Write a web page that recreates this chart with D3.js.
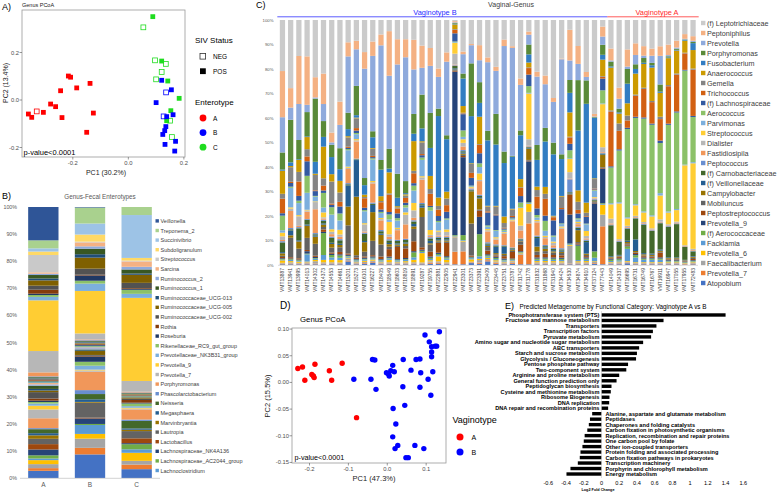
<!DOCTYPE html>
<html><head><meta charset="utf-8">
<script src="https://cdn.jsdelivr.net/npm/d3@7"></script>
<style>body{margin:0;background:#fff}svg{display:block}text{font-family:"Liberation Sans",Arial,sans-serif}</style>
</head><body><svg id="c" width="778" height="492"></svg>
<script>
// ---------- Panel A: fecal genus PCoA ----------
const fecalPC1 = [-0.216,-0.208,-0.138,-0.186,-0.244,-0.280,-0.262,-0.306,-0.330,-0.360,-0.348,-0.239,-0.126,-0.150,
  0.088,0.054,0.096,0.120,0.135,0.120,0.100,0.142,0.183,0.153,0.138,0.150,0.157,
  0.120,0.155,0.136,0.100,0.127,0.138,0.161,0.135,0.131,0.124,0.170,0.132,0.167];
const fecalPC2 = [0.101,0.096,0.070,0.051,0.039,-0.017,-0.028,-0.052,-0.048,-0.059,-0.073,-0.074,-0.055,-0.136,
  0.351,0.306,0.167,0.164,0.152,0.118,0.087,0.080,0.007,-0.045,-0.087,-0.087,-0.156,
  0.083,0.043,0.032,-0.011,-0.069,-0.070,-0.062,-0.112,-0.129,-0.145,-0.174,-0.187,-0.215];
const fecalEnterotype = ["A","A","A","A","A","A","A","A","A","A","A","A","A","A",
  "C","C","C","C","C","C","C","C","C","C","C","C","C",
  "B","B","B","B","B","B","B","B","B","B","B","B","B"];
const fecalSIV = ["POS","POS","POS","POS","POS","POS","POS","POS","NEG","POS","POS","POS","POS","POS",
  "POS","NEG","NEG","POS","NEG","NEG","NEG","POS","POS","POS","POS","NEG","NEG",
  "POS","POS","NEG","POS","NEG","POS","POS","POS","POS","POS","POS","POS","POS"];
const enterotypes = ["A","B","C"];
const typeColors = ["#FF0000","#0000FF","#1EDC1E"];

// ---------- Panel B: fecal enterotype composition ----------
const excelPalette = ["#4472C4","#ED7D31","#A5A5A5","#FFC000","#5B9BD5","#70AD47","#264478","#9E480E","#636363","#997300","#255E91","#43682B",
  "#698ED0","#F1975A","#B7B7B7","#FFCD33","#7CAFDD","#8CC168","#1F3864","#843C0C","#525252","#7F6000","#1F4E79","#385723",
  "#8FAADC","#F4B183","#C9C9C9","#FFD966","#9DC3E6","#A9D18E","#2F5597","#C55A11","#7B7B7B","#BF9000","#2E75B6","#548235"];
const fecalLegend = ["Veillonella","Treponema_2","Succinivibrio","Subdoligranulum","Streptococcus","Sarcina","Ruminococcus_2","Ruminococcus_1",
  "Ruminococcaceae_UCG-013","Ruminococcaceae_UCG-005","Ruminococcaceae_UCG-002","Rothia","Roseburia","Rikenellaceae_RC9_gut_group",
  "Prevotellaceae_NK3B31_group","Prevotella_9","Prevotella_7","Porphyromonas","Phascolarctobacterium","Neisseria","Megasphaera",
  "Marvinbryantia","Lautropia","Lactobacillus","Lachnospiraceae_NK4A136","Lachnospiraceae_AC2044_group","Lachnoclostridium"];
const fecalLegendColor = [30,29,28,27,26,25,24,23,22,21,20,19,18,17,16,15,14,13,12,11,10,9,8,7,6,5,4];
// segments bottom -> top: [palette index, percent]
const fecalA = [[0,2.7],[1,1],[2,1.5],[3,1.5],[4,0.6],[5,1.2],[6,2.2],[7,2],[8,2],[9,1.3],[10,0.8],[11,1.5],[12,0.4],[13,3.7],[14,3.3],[15,1.4],[16,0.8],[17,0.6],[18,0.5],[19,0.8],[20,2.4],[21,0.6],[22,0.6],[23,1.2],[24,0.5],[25,0.5],
  [4,0.3],[5,0.3],[6,0.3],[7,0.3],[8,0.3],[9,0.2],[10,0.2],[11,0.3],[12,0.3],[13,1.5],[14,8],[15,19],[16,1.3],[17,0.7],[18,0.5],[19,1.5],[20,1.5],[21,2],[22,0.7],[23,1.3],[24,0.5],[25,0.5],[26,6.5],[27,1.3],[28,1.2],[29,3],[30,12.5]];
const fecalB = [[0,9],[1,2.5],[2,3.5],[3,1.8],[4,3.4],[5,0.4],[6,2.1],[7,0.3],[8,5.7],[9,0.3],[10,1],[11,2],[12,1.5],[13,7],[14,0.5],[15,0.3],[16,1.5],[17,1.5],[18,2],[19,0.3],[20,0.3],[21,1.5],[22,0.3],[23,0.3],[24,0.5],[25,0.3],
  [4,0.3],[5,0.3],[6,0.3],[7,0.3],[8,0.3],[9,0.3],[10,0.3],[11,0.3],[12,0.3],[13,0.3],[14,2.3],[15,16.2],[16,2.8],[17,1.1],[18,2],[19,0.3],[20,2.3],[21,4.2],[22,1.3],[23,2.1],[24,0.9],[25,1.5],[26,0.3],[27,2.7],[28,4.2],[29,6.1],[30,0.2]];
const fecalC = [[0,3.3],[1,1.7],[2,1.4],[3,3],[4,1.3],[5,1.9],[6,0.4],[7,1.8],[8,2.7],[9,0.5],[10,0.5],[11,2.8],[12,0.5],[13,3.8],[14,0.3],[15,0.3],[16,0.6],[17,1],[18,0.3],[19,1],[20,0.5],[21,0.5],
  [4,0.2],[5,0.2],[6,0.2],[7,0.2],[8,0.2],[9,0.2],[10,0.2],[11,0.2],[12,0.2],[13,0.3],[14,4],[15,31],[16,1.5],[17,1.5],[18,0.3],[19,0.3],[20,2],[21,3],[22,0.5],[23,1.5],[24,1],[25,2],[26,0.3],[27,1],[28,16],[29,3]];
const fecalGroups = ["A","B","C"];
const fecalBars = [fecalA, fecalB, fecalC];
const pctTicks = [0,10,20,30,40,50,60,70,80,90,100];

// ---------- Panel C: vaginal genus composition ----------
const samples = ["VMT13887","VMT13941","VMT13995","VMT14013","VMT14302","VMT14373","VMT14553","VMT14661","VMT15201","VMT15273",
  "VMT16101","VMT16227","VMT18405","VMT18549","VMT18603","VMT18819","VMT18891","VMT19287","VMT19755","VMT22881","VMT22905",
  "VMT22941","VMT23301","VMT23373","VMT23391","VMT23409","VMT23445","VMT23751","VMT23787","VMT31742","VMT31778","VMT31832",
  "VMT31868","VMT31940","VMT34424","VMT34530","VMT34874","VMT34910","VMT37124","VMT77443",
  "VMT14049","VMT14337","VMT16695","VMT16731","VMT16749","VMT16767","VMT16911","VMT16947","VMT17055","VMT17955","VMT72483"];
const vaginotypeOf = samples.map((s,i)=> i<40 ? "B" : "A");
// stack order bottom -> top
const vaginalGenera = ["Atopobium","Prevotella_7","Faecalibacterium","Prevotella_6","Facklamia","(f) Aerococcaceae","Prevotella_9",
  "Peptostreptococcus","Mobiluncus","Campylobacter","(f) Veillonellaceae","(f) Carnobacteriaceae","Peptococcus","Fastidiosipila",
  "Dialister","Streptococcus","Parvimonas","Aerococcus","(f) Lachnospiraceae","Trichococcus","Gemella","Anaerococcus",
  "Fusobacterium","Porphyromonas","Prevotella","Peptoniphilus","(f) Leptotrichiaceae"];
const vaginalColors = ["#4472C4","#ED7D31","#A5A5A5","#FFC000","#5B9BD5","#70AD47","#264478","#9E480E","#636363","#997300",
  "#255E91","#43682B","#698ED0","#F1975A","#B7B7B7","#FFCD33","#7CAFDD","#8CC168","#335AA1","#D26012","#848484","#CC9A00",
  "#327DC2","#5A8A39","#8FAADC","#F4B183","#CBCBCB"];
const vaginalAbund = [
 [0.3,0.3,0.3,1,0.3,0.3,0.3,0.5,0.5,1,0.5,4,0.5,0.5,1.5,1.5,1,6,1,6,2,9.5,0.5,7,14.5,19,21],
 [0.3,0.3,0.5,0.5,0.5,0.3,0.3,0.5,8,1,2,0.5,0.5,7,1,0.5,8,0.5,1.5,0.5,6,0.5,1.5,17.5,5,8,28],
 [0.3,0.3,0.3,0.5,0.3,0.3,0.3,0.5,4,3,0.5,5,0.5,0.5,4,0.5,5,1,2,6,4,5,0.3,8,15,20,15],
 [0.3,0.3,0.5,0.3,3,0.3,1,0.5,5,5,0.5,2,0.3,3,0.5,0.3,7,7,6,2,3,5,0.3,10,3,20,15],
 [0.3,0.3,1,0.5,0.5,0.3,0.5,0.5,5,3,0.5,0.5,0.5,10,3,0.3,2,0.3,2,0.3,6.5,0.5,5,26.5,0.5,8.5,24],
 [0.3,0.3,0.5,1,2,9,0.5,1,1,1,0.5,1,0.5,0.5,0.5,2,2,6,1,2,3,13,4,6.5,7,12.5,22],
 [0.3,0.3,0.5,1,1,1,0.5,0.5,2,1.5,0.5,2,0.5,1,1,1,6,3,1,0.5,9,3,7,5,1,4,46],
 [0.3,0.3,0.5,1,1,1,0.5,1,2,1,0.5,1.5,0.5,1,1,2,4,3,3,2,4,5,5,9,10,10,35],
 [1.5,0.3,1,0.3,0.5,0.3,0.5,0.5,12,8,9,0.5,0.5,6,0.5,0.5,7,0.5,0.5,0.5,4,0.5,3,7,24,6,9.5],
 [0.3,0.3,0.5,0.3,0.5,0.3,0.3,0.5,1,24,15,0.3,0.3,7,0.5,0.5,2,0.5,1,1,4,0.3,1,12,15,3.5,8.5],
 [0.5,0.3,0.5,0.5,0.5,0.3,0.5,0.5,2,4,0.5,3,0.5,0.5,3,0.5,5,0.5,1,4,0.5,1,4,3,46,7,13.5],
 [1,0.3,0.5,0.5,0.5,0.3,0.5,0.5,6,12,3,0.5,0.5,8,0.5,0.5,9,0.5,0.5,0.5,3,0.3,4.5,2.5,31.5,6,9],
 [0.3,0.3,0.5,0.3,0.5,0.3,0.3,1,5,4,0.5,1,0.5,4,0.5,0.5,2,0.5,1,3,0.5,2,11,4,47.5,4.5,6],
 [0.3,0.3,0.5,1,0.5,0.3,0.5,3,1,1,0.5,1,0.5,1,1,5,1,2,1,7,0.5,8.5,1.5,8,29.5,18,4.5],
 [0.3,0.3,0.5,0.3,0.5,0.3,0.3,5,0.5,0.5,0.5,1,0.5,4,0.5,0.5,3,1,2,2,0.5,0.5,3.5,10,45.5,10.5,8],
 [0.3,0.3,0.5,0.5,0.5,0.3,0.5,4,1,1,0.5,1,0.5,6,4,1,2,1,1,2,1,0.5,0.5,5,51.5,7.5,8],
 [0.3,0.3,0.5,1,1,2,0.5,4,5,1,1,1,0.5,1,3,3,5,2,1,4,1,12,3,8,18,12,8],
 [0.3,0.3,0.5,4,0.5,0.5,0.5,1,13,4,1,0.5,0.5,10,1,0.5,7,1,1,0.5,5,0.5,5.5,14.5,11.5,9.5,11],
 [0.5,0.5,0.5,0.5,0.5,0.5,0.5,2,3,0.5,1,1,0.5,0.5,0.5,2,8,1.5,0.5,5,2,5.4,11.6,14.5,19.5,7.4,11.6],
 [0.5,0.5,0.5,2,0.5,0.5,0.5,4,0.5,0.5,0.5,0.5,0.5,0.5,1.5,0.5,3.4,0.5,2,2.6,1.5,3.4,33.1,3,12.9,3.4,19.7],
 [0.3,0.3,0.5,1,0.5,0.5,0.5,5.4,0.5,0.5,0.5,0.5,0.5,0.5,1.5,1,4,0.5,2.7,2.7,2.7,2.8,21.4,1.6,30,3.8,13.2],
 [0.3,5.4,6.2,0.3,0.3,0.3,70,0.3,0.3,0.3,0.5,1,0.3,0.3,4.7,4.6,0.3,0.3,3.5,1.5,0.3,2,0.3,0.3,0.3,0.5,0.5],
 [0.3,5.4,4.1,0.3,0.3,2.1,32.6,0.5,0.5,0.5,0.5,0.5,0.5,1.5,1.5,1.5,1,2.7,6.8,0.3,0.3,2.8,11.5,2.1,8.1,1.1,13.2],
 [0.8,0.3,0.3,1,0.5,0.3,0.3,0.5,13.6,13.7,0.3,0.3,0.3,0.3,0.3,0.3,0.3,0.3,3.3,2.1,3.8,0.3,20,22.4,7.7,0.5,10.2],
 [0.5,0.5,1,0.5,1,9,7,2.5,0.5,4.5,0.5,0.5,0.5,5.5,0.5,2.6,2.6,1.5,4.1,3.4,0.3,11.1,5.6,8.4,8.9,6.1,10.2],
 [1.5,0.5,0.5,0.5,0.5,0.5,0.5,1.5,1.5,0.5,0.5,0.5,0.5,4.5,0.5,0.5,1,0.5,5.4,0.5,2,0.3,27.3,4,28.6,2,15.6],
 [0.5,0.5,0.5,0.5,0.5,0.5,0.5,0.5,0.5,0.5,2.7,0.5,0.5,2,0.5,0.5,2.7,0.3,6.2,0.3,3.4,0.3,25.8,12.9,18.1,1.7,19.7],
 [0.3,0.3,0.5,0.3,0.5,0.3,0.5,1,0.5,0.5,3,0.3,0.3,4.7,0.5,0.3,0.5,0.5,0.5,0.3,2,2.7,22.4,4.8,44.2,2.7,8.2],
 [0.5,0.5,0.5,0.3,0.3,0.3,0.3,2.7,0.5,0.5,0.3,0.3,0.3,10.9,0.3,0.3,0.3,0.3,0.5,0.5,2.7,0.3,21.7,0.3,44.9,0.7,10.9],
 [0.3,4,0.3,0.3,0.3,0.3,0.3,2.7,1.4,0.3,0.3,0.3,0.3,3.4,2,7.4,0.3,2,2.7,3.4,0.3,3.4,18.4,2,19.1,2.7,24.5],
 [0.3,17,4.8,3.4,0.3,0.3,17,0.3,0.3,4.7,0.3,0.3,0.3,0.3,2.7,19,0.3,2.8,4.8,2.7,0.3,2,3.4,4.1,4.1,1.3,4.8],
 [0.3,0.3,0.5,0.5,0.5,0.5,0.5,1,1.4,2,3.5,0.5,0.5,5.4,0.5,0.5,1,1,2.7,4.8,2.7,1.4,10.9,6.1,27.9,2,21.1],
 [0.3,0.3,0.5,0.5,0.5,0.5,0.5,1.5,1,1,0.5,0.5,0.5,2.7,0.5,0.5,2,4,2.1,6.8,2,2.8,18.3,5.5,17.6,3.5,22.4],
 [0.3,0.3,0.5,0.5,0.5,0.5,0.5,1,1,0.5,0.5,0.5,0.5,1,1,0.5,2,0.5,6.2,1.3,0.3,0.3,25.2,4.8,16.7,1.6,32],
 [0.3,0.3,0.5,0.5,0.5,0.5,0.5,1,1,0.5,0.5,0.5,0.5,8.2,0.5,0.5,1,0.3,6,0.5,4.8,0.3,15.6,2,40.2,0.3,16.3],
 [0.3,0.3,7.5,0.3,0.3,0.3,12.2,8.2,0.3,0.3,0.3,0.3,5.4,0.3,2.7,5.5,0.3,3.4,2.7,2.7,0.3,10.2,8.2,5.4,8.2,12.9,4.1],
 [0.3,0.3,0.5,0.5,0.5,6,0.5,0.5,0.5,5,0.5,0.5,0.5,1,0.5,0.5,1,0.5,2,1.5,3.4,4.8,25.1,21.1,6.8,7.5,10.9],
 [0.3,0.3,0.5,0.5,0.5,0.5,0.5,0.5,0.5,0.5,4.7,0.5,0.5,0.5,1,2,2.7,0.3,2.7,0.3,1.4,4.1,40.1,9.5,1.4,2,21.1],
 [0.5,0.3,0.5,0.3,1.5,2.7,20.5,0.3,0.3,0.3,0.3,0.3,0.3,0.3,0.3,0.3,2.7,0.3,0.3,0.3,4.1,0.3,25.8,0.3,0.3,1.1,40.1],
 [0.3,15.6,4.8,4.1,0.3,0.3,14.2,0.3,0.3,5,0.3,0.3,0.3,0.3,2,17.7,0.3,5.4,4.8,0.7,0.3,6.8,2,4.1,3.4,4.1,2.7],
 [0.3,0.3,0.3,0.3,0.5,0.5,0.3,0.3,0.3,0.3,0.3,13,0.3,0.5,2,6,0.5,15,0.5,23,0.5,18,0.5,2,0.5,5,12],
 [0.3,0.3,0.5,0.3,0.5,0.5,0.3,0.5,0.3,0.3,0.3,5.3,0.3,0.3,0.5,14.5,0.5,21,0.5,7.5,3,4,0.5,1.5,4,4.5,27.5],
 [0.7,0.3,0.3,0.3,5,1,0.3,0.5,0.5,0.5,0.5,5,0.3,0.3,0.5,3,0.5,36,0.5,3,2,5,8,6,1,7,12],
 [0.3,0.3,0.3,0.3,2,1,0.5,0.5,0.3,0.5,5,9,0.3,0.3,0.5,4.5,0.5,37,0.5,9,0.5,9,2,2,4,5,10],
 [0.3,0.3,0.3,0.3,1,0.5,0.5,0.5,0.3,0.5,0.5,12,0.3,0.3,0.5,4,0.5,39,0.5,12,0.5,10,0.5,2,1,4,11],
 [0.3,0.3,0.3,0.3,1,0.5,0.3,0.5,0.3,0.5,0.5,9.5,0.3,0.3,0.5,5,0.5,38,0.5,9,0.5,14,1,1,3,3,12],
 [0.3,0.3,0.3,0.3,1,0.5,0.5,2,0.3,0.5,0.5,11,0.3,0.3,1,10,1,21,1,9,1,10,0.5,3,12,4,11],
 [0.3,0.3,0.3,0.3,0.3,0.3,0.3,0.3,0.3,0.3,0.3,13,0.3,0.3,0.5,5,0.5,37,0.5,16,0.5,11.5,0.3,0.5,0.5,4.5,10.5],
 [0.3,0.3,0.3,0.3,0.3,0.3,0.3,0.3,0.3,0.3,0.3,14.5,0.3,0.3,0.5,5,0.5,42,0.5,16,0.5,10,0.3,0.5,0.5,3,9],
 [0.2,0.2,0.2,0.2,0.2,0.2,0.2,0.2,0.2,0.2,0.2,5.5,0.2,0.2,0.3,34,0.3,40,0.3,7,0.3,5,0.3,0.3,0.3,2,6],
 [0.3,0.3,0.3,0.3,0.3,0.3,0.3,0.5,0.5,0.5,0.3,2,0.3,0.3,0.5,37,0.5,19.5,0.5,20,0.5,8,3,0.5,0.5,2,7]
];

// ---------- Panel D: vaginal genus PCoA ----------
const vagPC1 = [-0.230,-0.218,-0.186,-0.212,-0.194,-0.190,-0.188,-0.149,-0.143,-0.116,-0.079,
  -0.086,-0.042,-0.038,-0.032,-0.029,-0.002,0.005,0.009,0.014,0.018,0.003,0.041,0.040,0.061,0.074,0.084,0.086,0.084,0.097,0.105,
  0.108,0.114,0.114,0.114,0.117,0.112,0.123,0.127,0.134,0.015,0.045,0.022,0.014,0.020,0.027,0.071,0.094,0.048,0.054];
const vagPC2 = [0.026,0.029,0.034,0.004,0.015,0.012,0.009,0.022,0.004,0.036,-0.066,
  0.006,0.006,0.043,0.042,-0.013,0.018,0.012,0.022,0.032,0.020,0.016,0.043,-0.008,0.023,0.043,0.044,0.018,-0.009,0.089,0.006,
  0.076,0.067,0.057,0.048,0.020,-0.024,0.068,0.068,0.095,-0.049,-0.043,-0.078,-0.102,-0.124,-0.118,-0.118,-0.124,-0.141,-0.141];
const vagType = vagPC1.map((v,i)=> i<11 ? "A" : "B");

// ---------- Panel E: predicted metagenome ----------
const pathways = ["Phosphotransferase system (PTS)","Fructose and mannose metabolism","Transporters","Transcription factors",
  "Pyruvate metabolism","Amino sugar and nucleotide sugar metabolism","ABC transporters","Starch and sucrose metabolism",
  "Glycolysis / Gluconeogenesis","Pentose phosphate pathway","Two-component system","Arginine and proline metabolism",
  "General function prediction only","Peptidoglycan biosynthesis","Cysteine and methionine metabolism","Ribosome Biogenesis",
  "DNA replication","DNA repair and recombination proteins","Alanine, aspartate and glutamate metabolism","Peptidases",
  "Chaperones and folding catalysts","Carbon fixation in photosynthetic organisms","Replication, recombination and repair proteins",
  "One carbon pool by folate","Other ion-coupled transporters","Protein folding and associated processing",
  "Carbon fixation pathways in prokaryotes","Transcription machinery","Porphyrin and chlorophyll metabolism","Energy metabolism"];
const log2FC = [1.40,0.70,0.62,0.58,0.56,0.47,0.425,0.40,0.39,0.30,0.28,0.20,0.17,0.113,0.105,0.09,0.087,0.075,
  -0.105,-0.13,-0.143,-0.16,-0.19,-0.20,-0.215,-0.237,-0.245,-0.267,-0.35,-0.395];
const fcTicks = [-0.6,-0.4,-0.2,0,0.2,0.4,0.6,0.8,1,1.2,1.4,1.6];

// =====================================================
const svg = d3.select("#c");
function txt(x,y,s,o={}){
  const t = svg.append("text").attr("x",x).attr("y",y).text(s)
    .attr("font-size",o.size||7).attr("fill",o.fill||"#000")
    .attr("text-anchor",o.anchor||"start");
  if(o.weight) t.attr("font-weight",o.weight);
  if(o.rotate!==undefined) t.attr("transform",`rotate(${o.rotate},${x},${y})`);
  if(o.len) t.attr("textLength",o.len).attr("lengthAdjust","spacingAndGlyphs");
  return t;
}

// ---------------- Panel A ----------------
{
  const x = d3.scaleLinear().domain([-0.383,0.204]).range([22,185]);
  const y = d3.scaleLinear().domain([-0.24,0.379]).range([157,10]);
  txt(2,10,"A)",{size:9});
  txt(22,6.5,"Genus PCoA",{size:5.5,fill:"#222"});
  svg.append("rect").attr("x",22).attr("y",10).attr("width",163).attr("height",147)
    .attr("fill","#fff").attr("stroke","#9a9a9a").attr("stroke-width",0.8);
  [-0.2,0,0.2].forEach(v=>{
    svg.append("line").attr("x1",x(v)).attr("x2",x(v)).attr("y1",157).attr("y2",159.5).attr("stroke","#555").attr("stroke-width",0.6);
    txt(x(v),165,v.toFixed(1),{size:5.8,fill:"#4d4d4d",anchor:"middle"});
    svg.append("line").attr("x1",19.5).attr("x2",22).attr("y1",y(v)).attr("y2",y(v)).attr("stroke","#555").attr("stroke-width",0.6);
    txt(19,y(v)+2,v.toFixed(1),{size:5.8,fill:"#4d4d4d",anchor:"end"});
  });
  txt(106,175,"PC1 (30.2%)",{size:7,fill:"#222",anchor:"middle"});
  txt(7.5,83,"PC2 (13.4%)",{size:7,fill:"#222",anchor:"middle",rotate:-90});
  const s=4.8;
  fecalPC1.forEach((v,i)=>{
    const c = typeColors[enterotypes.indexOf(fecalEnterotype[i])];
    const open = fecalSIV[i]==="NEG";
    svg.append("rect").attr("x",x(v)-s/2).attr("y",y(fecalPC2[i])-s/2).attr("width",s).attr("height",s)
      .attr("fill",open?"none":c).attr("stroke",open?c:"none").attr("stroke-width",0.8);
  });
  txt(23.5,155,"p-value<0.0001",{size:7.5});
  txt(195,42.5,"SIV Status",{size:8});
  svg.append("rect").attr("x",200).attr("y",53.5).attr("width",5.6).attr("height",5.6).attr("fill","none").attr("stroke","#333").attr("stroke-width",0.8);
  txt(213,58.8,"NEG",{size:6.5});
  svg.append("rect").attr("x",200).attr("y",68.3).attr("width",5.8).attr("height",5.8).attr("fill","#000");
  txt(213,73.6,"POS",{size:6.5});
  txt(195,105,"Enterotype",{size:8});
  enterotypes.forEach((e,i)=>{
    svg.append("circle").attr("cx",203).attr("cy",118+i*14.6).attr("r",3.4).attr("fill",typeColors[i]);
    txt(213,120.5+i*14.6,e,{size:6.5});
  });
}

// ---------------- Panel B ----------------
{
  const x = d3.scaleBand().domain(fecalGroups).range([20,160]).paddingInner(0.35).paddingOuter(0.175);
  const y = d3.scaleLinear().domain([0,100]).range([478,207]);
  txt(2,199,"B)",{size:9});
  txt(100,198.5,"Genus-Fecal Enterotypes",{size:6.3,fill:"#595959",anchor:"middle"});
  pctTicks.forEach(v=> txt(17,y(v)+2,v+"%",{size:5.3,fill:"#595959",anchor:"end"}));
  fecalBars.forEach((segs,i)=>{
    const tot = d3.sum(segs,d=>d[1]);
    let acc=0;
    segs.forEach(([ci,v])=>{
      const y0=y(acc/tot*100), y1=y((acc+v)/tot*100);
      svg.append("rect").attr("x",x(fecalGroups[i])).attr("width",x.bandwidth())
        .attr("y",y1).attr("height",Math.max(0,y0-y1)).attr("fill",excelPalette[ci]);
      acc+=v;
    });
    txt(x(fecalGroups[i])+x.bandwidth()/2,487,fecalGroups[i],{size:6.5,fill:"#595959",anchor:"middle"});
  });
  svg.append("line").attr("x1",20).attr("x2",160).attr("y1",478.3).attr("y2",478.3).attr("stroke","#bfbfbf").attr("stroke-width",0.7);
  fecalLegend.forEach((n,i)=>{
    const cy = 221+i*9.6;
    svg.append("rect").attr("x",155.5).attr("y",cy-1.8).attr("width",3.4).attr("height",3.4).attr("fill",excelPalette[fecalLegendColor[i]]);
    txt(160.5,cy+2,n,{size:5.5,fill:"#404040"});
  });
}

// ---------------- Panel C ----------------
{
  const x = d3.scaleBand().domain(samples).range([279,696.5]).paddingInner(0.36).paddingOuter(0.1);
  const y = d3.scaleLinear().domain([0,1]).range([265,20]);
  txt(256,8,"C)",{size:9});
  txt(511,7,"Vaginal-Genus",{size:7,fill:"#404040",anchor:"middle"});
  pctTicks.forEach(v=> txt(273.5,y(v/100)+1.6,v+"%",{size:4.3,fill:"#595959",anchor:"end"}));
  const rows = samples.map((s,i)=>{const o={sample:s}; vaginalGenera.forEach((k,j)=>o[k]=vaginalAbund[i][j]); return o;});
  const stacked = d3.stack().keys(vaginalGenera).offset(d3.stackOffsetExpand)(rows);
  stacked.forEach((layer,j)=>{
    svg.append("g").selectAll("rect").data(layer).join("rect")
      .attr("x",d=>x(d.data.sample)).attr("width",x.bandwidth())
      .attr("y",d=>y(d[1])).attr("height",d=>Math.max(0,y(d[0])-y(d[1])))
      .attr("fill",vaginalColors[j]);
  });
  svg.append("line").attr("x1",278).attr("x2",698).attr("y1",265.3).attr("y2",265.3).attr("stroke","#bfbfbf").attr("stroke-width",0.6);
  samples.forEach(s=>{
    const cx = x(s)+x.bandwidth()/2+1.6;
    txt(cx,268,s,{size:4.9,fill:"#404040",anchor:"end",rotate:-90});
  });
  const bS = samples.filter((s,i)=>vaginotypeOf[i]==="B"), aS = samples.filter((s,i)=>vaginotypeOf[i]==="A");
  const bx0 = x(bS[0])-2.5, bx1 = x(bS[bS.length-1])+x.bandwidth()+2;
  const ax0 = x(aS[0])-1, ax1 = x(aS[aS.length-1])+x.bandwidth()+3;
  svg.append("line").attr("x1",bx0).attr("x2",bx1).attr("y1",16.8).attr("y2",16.8).attr("stroke","#4a4aff").attr("stroke-width",0.9);
  svg.append("line").attr("x1",ax0).attr("x2",ax1).attr("y1",16.8).attr("y2",16.8).attr("stroke","#ff4a4a").attr("stroke-width",0.9);
  txt(435,15,"Vaginotype B",{size:7.4,fill:"#2a2aff",anchor:"middle"});
  txt(657,15,"Vaginotype A",{size:7.4,fill:"#ff2a2a",anchor:"middle"});
  vaginalGenera.slice().reverse().forEach((n,i)=>{
    const cy = 23+i*10;
    svg.append("rect").attr("x",701).attr("y",cy-2.2).attr("width",4.4).attr("height",4.4).attr("fill",vaginalColors[vaginalGenera.length-1-i]);
    txt(707,cy+2.6,n,{size:7.2,fill:"#404040"});
  });
}

// ---------------- Panel D ----------------
{
  const x = d3.scaleLinear().domain([-0.245,0.151]).range([292,446]);
  const y = d3.scaleLinear().domain([-0.151,0.102]).range([463,328]);
  txt(280,309,"D)",{size:10});
  txt(300,322,"Genus PCoA",{size:7.8});
  svg.append("rect").attr("x",292).attr("y",328).attr("width",154).attr("height",135)
    .attr("fill","#fff").attr("stroke","#9a9a9a").attr("stroke-width",0.8);
  [-0.2,-0.1,0,0.1].forEach(v=>{
    svg.append("line").attr("x1",x(v)).attr("x2",x(v)).attr("y1",463).attr("y2",465.5).attr("stroke","#555").attr("stroke-width",0.6);
    txt(x(v),471,v.toFixed(1),{size:5.8,fill:"#4d4d4d",anchor:"middle"});
  });
  [-0.15,-0.10,-0.05,0,0.05,0.10].forEach(v=>{
    svg.append("line").attr("x1",289.5).attr("x2",292).attr("y1",y(v)).attr("y2",y(v)).attr("stroke","#555").attr("stroke-width",0.6);
    txt(289,y(v)+2,v.toFixed(2),{size:5.8,fill:"#4d4d4d",anchor:"end"});
  });
  txt(374,481,"PC1 (47.3%)",{size:7.5,fill:"#222",anchor:"middle"});
  txt(269.5,396,"PC2 (15.5%)",{size:7.5,fill:"#222",anchor:"middle",rotate:-90});
  vagPC1.forEach((v,i)=>{
    svg.append("circle").attr("cx",x(v)).attr("cy",y(vagPC2[i])).attr("r",2.7)
      .attr("fill",vagType[i]==="A"?"#FF0000":"#0000FF");
  });
  txt(294.5,460,"p-value<0.0001",{size:7.2});
  txt(452.5,423,"Vaginotype",{size:9});
  ["A","B"].forEach((t,i)=>{
    svg.append("circle").attr("cx",460).attr("cy",437+i*15).attr("r",3.5).attr("fill",t==="A"?"#FF0000":"#0000FF");
    txt(471.5,439.7+i*15,t,{size:7});
  });
}

// ---------------- Panel E ----------------
{
  const x = d3.scaleLinear().domain([-0.6,1.6]).range([548.3,743.3]);
  const y = d3.scaleBand().domain(pathways).range([311.2,477.8]).padding(0.38);
  txt(505,309,"E)",{size:9});
  txt(519.5,309,"Predicted Metagenome by Functional Category: Vaginotype A vs B",{size:7.6,len:187});
  pathways.forEach((p,i)=>{
    const v = log2FC[i];
    svg.append("rect").attr("x",x(Math.min(0,v))).attr("width",Math.abs(x(v)-x(0)))
      .attr("y",y(p)).attr("height",y.bandwidth()).attr("fill","#000");
    const cy = y(p)+y.bandwidth()/2;
    if(v>0) txt(x(0)-2,cy+2,p,{size:5.6,weight:"bold",anchor:"end"});
    else txt(x(0)+4,cy+2,p,{size:5.6,weight:"bold"});
  });
  svg.append("line").attr("x1",x(0)).attr("x2",x(0)).attr("y1",311).attr("y2",478).attr("stroke","#bfbfbf").attr("stroke-width",0.5);
  fcTicks.forEach(v=> txt(x(v),485,String(v),{size:5.6,anchor:"middle"}));
  txt(598,490.5,"Log2 Fold Change",{size:3.8,weight:"bold",anchor:"middle"});
}
</script></body></html>
